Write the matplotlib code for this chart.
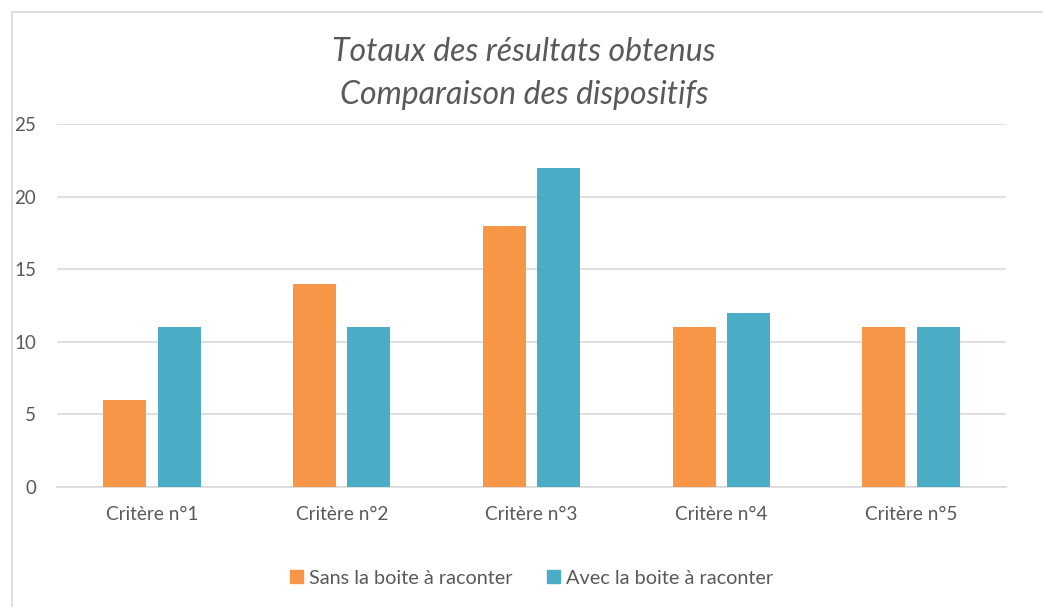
import matplotlib
matplotlib.use("Agg")
import matplotlib.pyplot as plt
from matplotlib.lines import Line2D
from matplotlib.patches import Patch
import numpy as np

categories = ["Critère n°1", "Critère n°2", "Critère n°3", "Critère n°4", "Critère n°5"]
sans_boite = [6, 14, 18, 11, 11]
avec_boite = [11, 11, 22, 12, 11]
series_labels = ["Sans la boite à raconter", "Avec la boite à raconter"]
yticks = [0, 5, 10, 15, 20, 25]

orange = "#F79646"
blue = "#4BACC6"
txt = "#595959"
font = "Lato"

fig = plt.figure(figsize=(10.43, 6.07), dpi=100)
ax = fig.add_axes([57/1043, 120/607, 949/1043, 363/607])

x = np.arange(len(categories))
w = 0.226
off = 0.1435
ax.bar(x - off, sans_boite, w, color=orange, zorder=3)
ax.bar(x + off, avec_boite, w, color=blue, zorder=3)

ax.set_xlim(-0.5, len(categories) - 0.5)
ax.set_ylim(0, 25)
ax.set_yticks(yticks)
ax.set_yticklabels([str(t) for t in yticks], fontfamily=font, fontsize=13.5, color=txt)
ax.set_xticks(x)
ax.set_xticklabels(categories, fontfamily=font, fontsize=13.7, color=txt)
ax.tick_params(axis="both", length=0)
ax.tick_params(axis="y", pad=15)
ax.tick_params(axis="x", pad=14)
for s in ["top", "right", "left"]:
    ax.spines[s].set_visible(False)
ax.spines["bottom"].set_color("#d9d9d9")
ax.spines["bottom"].set_linewidth(1.2)
ax.yaxis.grid(True, color="#d9d9d9", linewidth=1.2, zorder=0)
ax.set_axisbelow(True)

fig.text(524/1043, 1 - 52/607, "Totaux des résultats obtenus", ha="center", va="center",
         fontfamily=font, fontstyle="italic", fontsize=23, color=txt)
fig.text(524/1043, 1 - 95/607, "Comparaison des dispositifs", ha="center", va="center",
         fontfamily=font, fontstyle="italic", fontsize=23, color=txt)

handles = [Patch(color=orange), Patch(color=blue)]
fig.legend(handles, series_labels, loc="center", bbox_to_anchor=(531.5/1043, 1 - 578/607),
           ncol=2, frameon=False, prop={"family": font, "size": 14.3},
           labelcolor=txt, handlelength=0.65, handleheight=0.65, handletextpad=0.3,
           columnspacing=1.75)

# chart frame border
fig.add_artist(Line2D([12/1043, 12/1043], [0, 1 - 12/607], transform=fig.transFigure,
                      color="#d9d9d9", linewidth=1.2))
fig.add_artist(Line2D([12/1043, 1], [1 - 12/607, 1 - 12/607], transform=fig.transFigure,
                      color="#d9d9d9", linewidth=1.2))

fig.savefig("out.png", dpi=100)
